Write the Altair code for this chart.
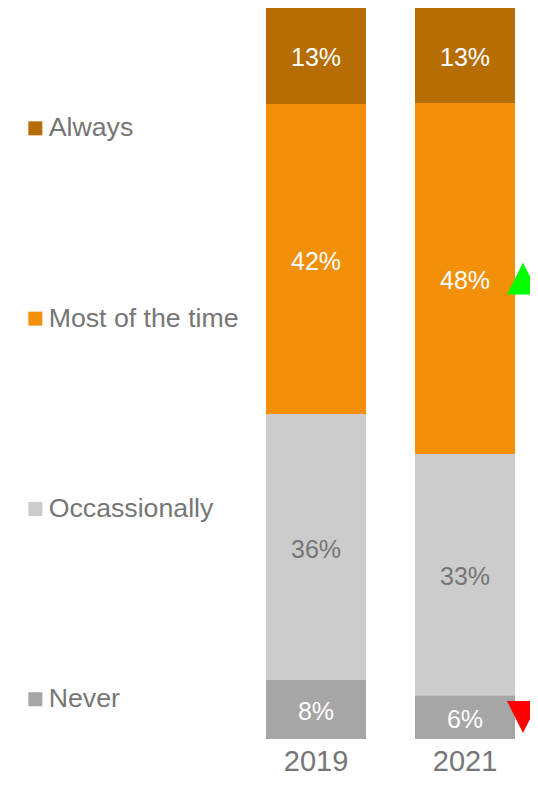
import altair as alt
import pandas as pd

FONT = "Liberation Sans, Arial, sans-serif"

years = ["2019", "2021"]
categories = ["Never", "Occassionally", "Most of the time", "Always"]  # bottom -> top
values_2019 = [8, 36, 42, 13]
values_2021 = [6, 33, 48, 13]
legend_order = ["Always", "Most of the time", "Occassionally", "Never"]
bar_colors = ["#B56D04", "#F39009", "#CCCCCC", "#A6A6A6"]
label_colors = ["#FFFFFF", "#FFFFFF", "#767676", "#FFFFFF"]
trend_up = ("2021", "Most of the time")
trend_down = ("2021", "Never")

rows = []
for year, vals in zip(years, [values_2019, values_2021]):
    total = sum(vals)
    cum = 0
    for cat, v in zip(categories, vals):
        lo = cum / total
        cum += v
        hi = cum / total
        rows.append(dict(year=year, cat=cat, value=v, lo=lo, hi=hi,
                         mid=(lo + hi) / 2, label=f"{v}%"))
df = pd.DataFrame(rows)

df_up = df[(df.year == trend_up[0]) & (df.cat == trend_up[1])]
df_down = df[(df.year == trend_down[0]) & (df.cat == trend_down[1])]

x = alt.X("year:N",
          scale=alt.Scale(paddingInner=0.32886, paddingOuter=0.29866, align=0.8315),
          axis=alt.Axis(title=None, labelAngle=0, labelFontSize=29, labelColor="#767676",
                        labelFont=FONT, domain=False, ticks=False, labelPadding=8))
yscale = alt.Scale(domain=[0, 1], nice=False, zero=True)

bars = alt.Chart(df).mark_bar().encode(
    x=x,
    y=alt.Y("lo:Q", scale=yscale, axis=None),
    y2="hi:Q",
    color=alt.Color("cat:N",
                    scale=alt.Scale(domain=legend_order, range=bar_colors),
                    legend=alt.Legend(orient="none", legendX=-170, legendY=107, title=None,
                                      symbolType="square", symbolSize=196,
                                      symbolStrokeWidth=0, labelFontSize=26.7,
                                      labelColor="#767676", labelFont=FONT,
                                      rowPadding=162.3, labelOffset=0, labelLimit=400,
                                      padding=0)),
)

texts = alt.Chart(df).mark_text(fontSize=25, font=FONT, baseline="middle", dy=2.5).encode(
    x=x,
    y=alt.Y("mid:Q", scale=yscale, axis=None),
    text="label:N",
    color=alt.Color("cat:N", scale=alt.Scale(domain=legend_order, range=label_colors),
                    legend=None),
)

up = alt.Chart(df_up).mark_point(shape="M-1,1L1,1L0,-1Z", size=1024, filled=True, clip=True,
                                 fill="#00FF00", opacity=1, strokeWidth=0, xOffset=58).encode(
    x=x, y=alt.Y("mid:Q", scale=yscale, axis=None))

down = alt.Chart(df_down).mark_point(shape="M-1,-1L1,-1L0,1Z", size=1024, filled=True, clip=True,
                                     fill="#FF0000", opacity=1, strokeWidth=0, xOffset=58).encode(
    x=x, y=alt.Y("mid:Q", scale=yscale, axis=None))

chart = alt.layer(bars, texts, up, down).resolve_scale(color="independent").properties(
    width=338, height=731,
    autosize=alt.AutoSizeParams(type="none"),
    padding={"left": 184, "top": 0, "right": 0, "bottom": 40},
).configure_view(stroke=None)

chart.save("out.html", embed_options={"renderer": "svg", "actions": False})
